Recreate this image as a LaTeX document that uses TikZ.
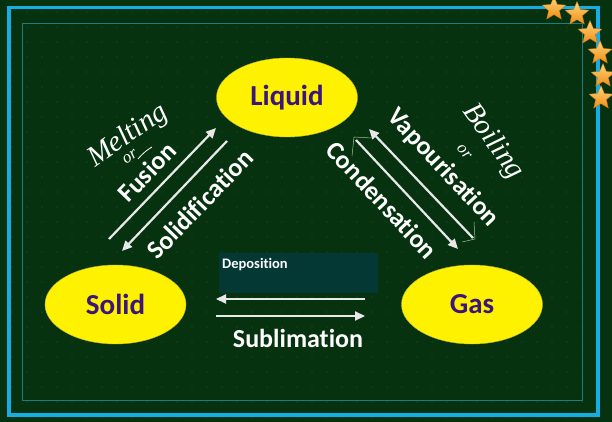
\documentclass[tikz,border=0pt]{standalone}
\usepackage{fontspec}
\setmainfont{Carlito}[Ligatures=NoCommon]
\newfontfamily\handfont{Liberation Serif}
\usetikzlibrary{shapes.geometric,arrows.meta}
\definecolor{bg}{RGB}{7,50,16}
\definecolor{griddot}{RGB}{40,82,46}
\definecolor{frameblue}{RGB}{22,172,228}
\definecolor{frameteal}{RGB}{30,125,130}
\definecolor{labpurple}{RGB}{58,22,122}
\definecolor{arrowwhite}{RGB}{232,232,232}
\definecolor{depbox}{RGB}{4,56,52}
\definecolor{thingreen}{RGB}{150,200,150}
\definecolor{starlight}{RGB}{255,214,120}
\definecolor{stardark}{RGB}{240,140,20}
\tikzset{
  phase/.style={ellipse, fill=yellow, draw=yellow!70!black, line width=0.4pt,
    minimum width=141pt, minimum height=79pt, inner sep=0pt, text=labpurple,
    font=\bfseries\fontsize{29}{30}\selectfont},
  flow/.style={draw=arrowwhite, line width=2.2pt, -{Triangle[length=10pt,width=9pt]}},
  flowlabel/.style={text=white, font=\bfseries\fontsize{26}{28}\selectfont, inner sep=0pt},
  hand/.style={text=white, font=\handfont\itshape\fontsize{29}{29}\selectfont, inner sep=0pt},
  handsmall/.style={text=white, font=\handfont\itshape\fontsize{17}{17}\selectfont, inner sep=0pt},
  starry/.style={star, star points=5, star point ratio=2.2, minimum size=25pt, inner sep=0pt,
    top color=starlight, bottom color=stardark, draw=stardark!80!black, line width=0.3pt},
  thinmark/.style={draw=thingreen, line width=0.5pt}
}
\begin{document}
\begin{tikzpicture}[x=1pt,y=-1pt]
\useasboundingbox (0,0) rectangle (612,422);
\fill[bg] (0,0) rectangle (612,422);
% dot grid
\foreach \gx in {12,27,...,597} {
  \foreach \gy in {12,27,...,417} {
    \fill[griddot] (\gx,\gy) circle (0.7pt);
  }
}
% frames
\draw[frameblue, line width=3.5pt] (9,7.5) rectangle (598,415);
\draw[frameteal, line width=1pt] (22,23.5) rectangle (582,400);

% phases
\node[phase] (liquid) at (287,97.5) {Liquid};
\node[phase] (solid) at (115.5,304.5) {Solid};
\node[phase] (gas) at (472,304.5) {Gas};

% deposition box
\fill[depbox] (219,253) rectangle (378,293);
\node[anchor=base west, inner sep=0pt, text=white, font=\bfseries\fontsize{14.5}{15}\selectfont] (deplabel) at (222,268) {Deposition};

% arrow end points
\coordinate (fusA) at (109,239);
\coordinate (fusB) at (216,128);
\coordinate (solA) at (227,141);
\coordinate (solB) at (122,251);
\coordinate (conA) at (473,238);
\coordinate (conB) at (369,129);
\coordinate (vapA) at (356,140);
\coordinate (vapB) at (458,249);
\coordinate (depA) at (365,299);
\coordinate (depB) at (216,299);
\coordinate (subA) at (216,316);
\coordinate (subB) at (365,316);

\draw[flow] (fusA) -- (fusB);
\draw[flow] (solA) -- (solB);
\draw[flow] (conA) -- (conB);
\draw[flow] (vapA) -- (vapB);
\draw[flow] (depA) -- (depB);
\draw[flow] (subA) -- (subB);

% thin marks near right arrows
\draw[thinmark] (352,156) -- (354,137) -- (372,138);
\draw[thinmark] (474,222) -- (475,239) -- (462,242);

% labels
\node[flowlabel, rotate=46] (fusion) at (147,172) {Fusion};
\node[flowlabel, rotate=46] (solidif) at (200,204) {Solidification};
\node[flowlabel, rotate=-47] (vapour) at (443,168) {Vapourisation};
\node[flowlabel, rotate=-47] (conden) at (382,200) {Condensation};
\node[flowlabel] (sublim) at (298,338) {Sublimation};

% handwriting
\node[hand, rotate=35] (melting) at (128,136) {Melting};
\node[handsmall, rotate=35] (melor) at (130,157) {or};
\draw[white, line width=0.8pt] (138,159) .. controls (143,153) and (147,150) .. (152,147);
\node[hand, rotate=-54] (boiling) at (493,142) {Boiling};
\node[handsmall, rotate=-50] (boilor) at (464,152) {or};

% stars
\foreach \sx/\sy [count=\si] in {554/9, 577/14, 590/33, 600/53, 603/76, 601/98} {
  \node[starry] (star\si) at (\sx,\sy) {};
}
\end{tikzpicture}
\end{document}
